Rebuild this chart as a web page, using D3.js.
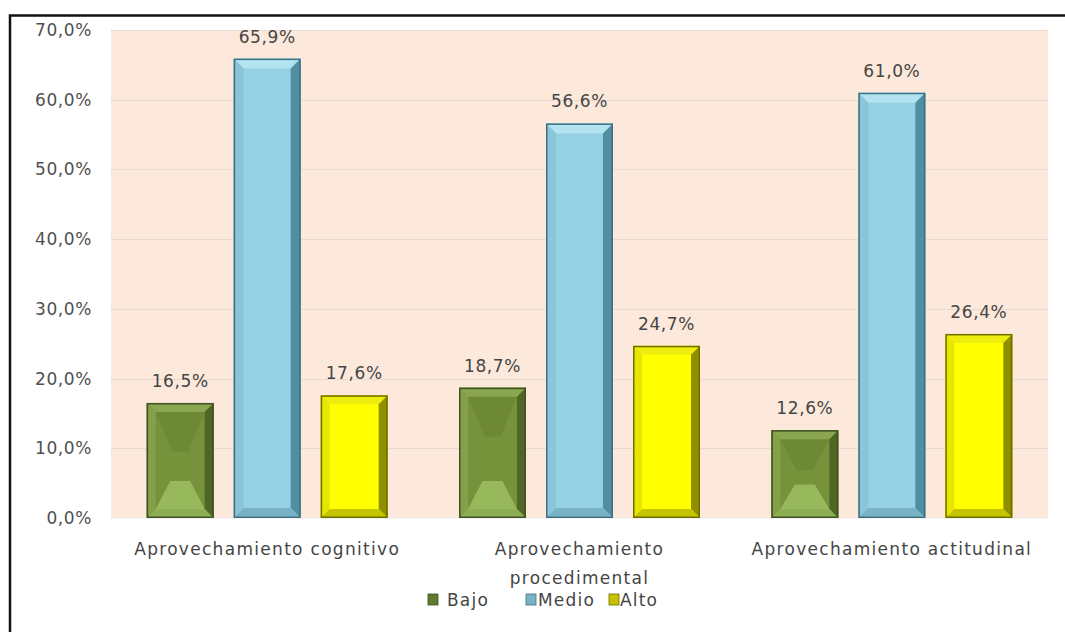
<!DOCTYPE html>
<html><head><meta charset="utf-8">
<script src="https://cdn.jsdelivr.net/npm/d3@7"></script>
<style>
html,body{margin:0;padding:0;background:#fff;}
svg{display:block;}
text{font-family:"DejaVu Sans",Verdana,sans-serif;}
</style></head>
<body>
<svg id="chart" width="1065" height="632"></svg>
<script>
const categories = ["Aprovechamiento cognitivo", "Aprovechamiento procedimental", "Aprovechamiento actitudinal"];
const seriesNames = ["Bajo", "Medio", "Alto"];
const bajo = [16.5, 18.7, 12.6];
const medio = [65.9, 56.6, 61.0];
const alto = [17.6, 24.7, 26.4];
const yTicks = [0, 10, 20, 30, 40, 50, 60, 70];

const seriesValues = [bajo, medio, alto];
const palette = {
  Bajo:  {fill:"#76923B", top:"#8BA650", left:"#84A04A", right:"#4F6627", bottom:"#8DAE52", stroke:"#3F5220", innerTop:"#6E8935", innerBottom:"#97B85B", legend:"#5E7A2C", bevel:9},
  Medio: {fill:"#96D1E3", top:"#B3E3F0", left:"#8AC6D8", right:"#4F8FA1", bottom:"#78B2C4", stroke:"#3E7182", legend:"#79B3C6", bevel:10},
  Alto:  {fill:"#FFFF00", top:"#EDED10", left:"#E6E600", right:"#8F8F00", bottom:"#C4C400", stroke:"#6E6E00", legend:"#C8C000", bevel:9}
};

const svg = d3.select("#chart");
const W = 1065, H = 632;
const plot = {left:111, right:1048, top:30, bottom:518};

// frame
svg.append("path").attr("d", `M10,${H} V15.5 H${W}`).attr("fill","none").attr("stroke","#111").attr("stroke-width",2.5);

const x0 = d3.scaleBand().domain(categories).range([plot.left, plot.right]).paddingInner(0).paddingOuter(0);
const x1 = d3.scaleBand().domain(seriesNames).range([0, x0.bandwidth()]).paddingInner(0.23).paddingOuter(0.41);
const y = d3.scaleLinear().domain([0, 70]).range([plot.bottom, plot.top]);

// plot background
svg.append("rect").attr("x", plot.left).attr("y", plot.top).attr("width", plot.right-plot.left).attr("height", plot.bottom-plot.top).attr("fill", "#FDE9DB");

// gridlines
svg.append("g").selectAll("line").data(yTicks).join("line")
  .attr("x1", plot.left).attr("x2", plot.right)
  .attr("y1", d => Math.round(y(d))+0.5).attr("y2", d => Math.round(y(d))+0.5)
  .attr("stroke", d => d===0 ? "#f2f2f2" : "#EADBD2").attr("stroke-width", 1.2);

// y axis labels
const yAxis = d3.axisLeft(y).tickValues(yTicks).tickSize(0).tickPadding(0)
  .tickFormat(d => d3.format(".1f")(d).replace(".", ",") + "%");
const gy = svg.append("g").attr("transform", `translate(92,0)`).call(yAxis);
gy.select(".domain").remove();
gy.selectAll("text").attr("font-size", 17).attr("fill", "#505050").attr("font-family", "DejaVu Sans").style("letter-spacing","0.6px");

// bars
function bevelBar(g, x, yy, w, h, c) {
  const b = Math.min(c.bevel, h/2);
  g.append("rect").attr("x", x).attr("y", yy).attr("width", w).attr("height", h).attr("fill", c.fill);
  if (c.innerTop) {
    const ih = h - 2*b;
    const t = Math.min(ih*0.45, 40);
    g.append("polygon").attr("points", [[x+b,yy+b],[x+w-b,yy+b],[x+w/2+8,yy+b+t],[x+w/2-8,yy+b+t]].join(" ")).attr("fill", c.innerTop);
    const tb = Math.min(ih*0.35, 28);
    g.append("polygon").attr("points", [[x+b,yy+h-b],[x+w-b,yy+h-b],[x+w/2+10,yy+h-b-tb],[x+w/2-10,yy+h-b-tb]].join(" ")).attr("fill", c.innerBottom);
  }
  g.append("polygon").attr("points", [[x,yy],[x+w,yy],[x+w-b,yy+b],[x+b,yy+b]].join(" ")).attr("fill", c.top);
  g.append("polygon").attr("points", [[x,yy],[x+b,yy+b],[x+b,yy+h-b],[x,yy+h]].join(" ")).attr("fill", c.left);
  g.append("polygon").attr("points", [[x+w,yy],[x+w-b,yy+b],[x+w-b,yy+h-b],[x+w,yy+h]].join(" ")).attr("fill", c.right);
  g.append("polygon").attr("points", [[x,yy+h],[x+w,yy+h],[x+w-b,yy+h-b],[x+b,yy+h-b]].join(" ")).attr("fill", c.bottom);
  g.append("rect").attr("x", x+0.75).attr("y", yy+0.75).attr("width", w-1.5).attr("height", h-1.5).attr("fill","none").attr("stroke", c.stroke).attr("stroke-width",1.5);
}

const barsG = svg.append("g");
const labelsG = svg.append("g");
categories.forEach((cat, ci) => {
  seriesNames.forEach((s, si) => {
    const v = seriesValues[si][ci];
    const bx = x0(cat) + x1(s);
    const by = y(v);
    const bw = x1.bandwidth();
    const bh = y(0) - by;
    bevelBar(barsG.append("g"), bx, by, bw, bh, palette[s]);
    labelsG.append("text").attr("x", bx + bw/2).attr("y", by - 16)
      .attr("text-anchor","middle").attr("font-size", 17).attr("fill","#454545")
      .style("letter-spacing","0.6px")
      .text(d3.format(".1f")(v).replace(".", ",") + "%");
  });
});

// category labels with wrap
const maxLabelW = 292;
const catG = svg.append("g");
categories.forEach(cat => {
  const cx = x0(cat) + x0.bandwidth()/2;
  const t = catG.append("text").attr("x", cx).attr("y", 555)
    .attr("text-anchor","middle").attr("font-size", 17).attr("fill","#454545").style("letter-spacing","1.3px");
  t.text(cat);
  if (t.node().getComputedTextLength() > maxLabelW) {
    const words = cat.split(" ");
    t.text(null);
    words.forEach((w, i) => {
      t.append("tspan").attr("x", cx).attr("dy", i===0 ? 0 : 29).text(w);
    });
  }
});

// legend
const legendMarkX = [428, 526, 609];
const legendTextX = [447, 538, 620];
const legG = svg.append("g");
seriesNames.forEach((s, i) => {
  legG.append("rect").attr("x", legendMarkX[i]).attr("y", 594).attr("width", 10).attr("height", 11)
    .attr("fill", palette[s].legend).attr("stroke", palette[s].stroke).attr("stroke-width", 0.8);
  legG.append("text").attr("x", legendTextX[i]).attr("y", 606).attr("font-size", 17).attr("fill","#454545")
    .style("letter-spacing","1.2px").text(s);
});
</script>
</body></html>
